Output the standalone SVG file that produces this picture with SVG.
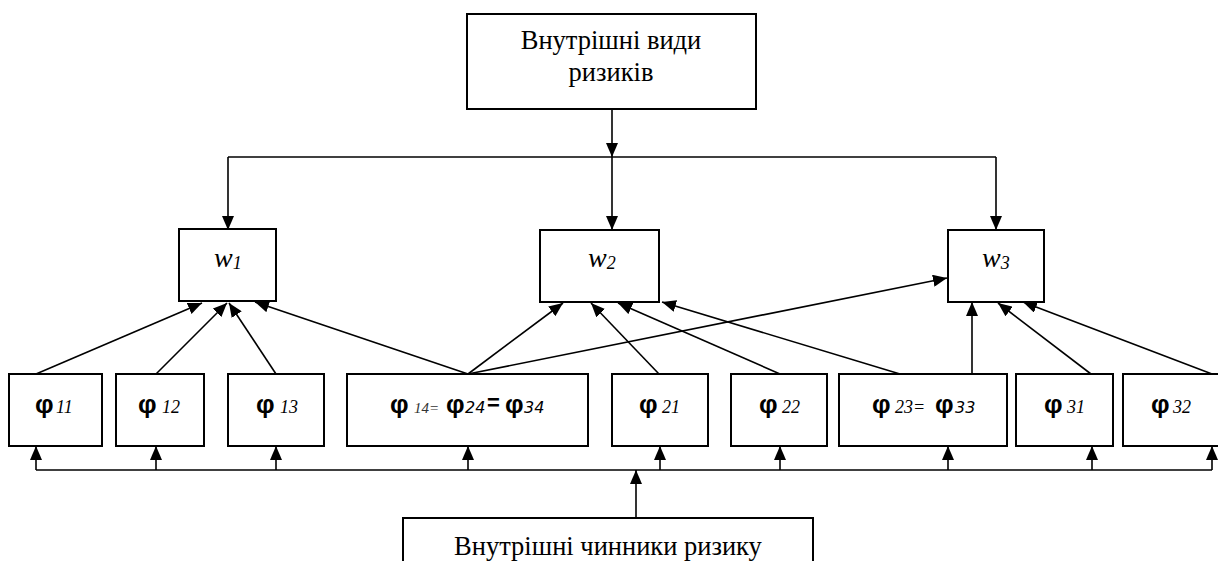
<svg xmlns="http://www.w3.org/2000/svg" width="1218" height="561" viewBox="0 0 1218 561">
<style>
.box{fill:#fff;stroke:#000;stroke-width:2}
.ln{stroke:#000;stroke-width:1.6;fill:none}
.ar{marker-end:url(#ah)}
.tt{font-family:'Liberation Serif','Times New Roman',serif;font-size:26.5px;fill:#000}
.w{font-family:'Liberation Serif','Times New Roman',serif;font-style:italic;font-size:28px;fill:#000}
.ws{font-family:'Liberation Serif','Times New Roman',serif;font-style:italic;font-size:18px;fill:#000}
.phi{font-family:'Liberation Sans',Arial,sans-serif;font-weight:bold;font-size:26px;fill:#000}
.eq{font-family:'Liberation Sans',Arial,sans-serif;font-weight:bold;font-size:22px;fill:#000}
.sub{font-family:'Liberation Serif','Times New Roman',serif;font-style:italic;font-size:18px;fill:#000}
.subs{font-family:'Liberation Serif','Times New Roman',serif;font-style:italic;font-size:15px;fill:#333}
.subv{font-family:'DejaVu Sans',sans-serif;font-style:italic;font-size:16px;fill:#000}
</style>
<defs>
<marker id="ah" markerUnits="userSpaceOnUse" markerWidth="14" markerHeight="12" refX="14" refY="6" orient="auto">
<path d="M0,0 L14,6 L0,12 z" fill="#000"/>
</marker>
</defs>
<g id="connectors">
<line class="ln ar" x1="612" y1="109" x2="612" y2="157"/>
<line class="ln ar" x1="612" y1="157" x2="612" y2="230"/>
<line class="ln" x1="228" y1="157" x2="996" y2="157"/>
<line class="ln ar" x1="228" y1="157" x2="228" y2="230"/>
<line class="ln ar" x1="996" y1="157" x2="996" y2="230"/>
<line class="ln ar" x1="36" y1="374" x2="202" y2="303"/>
<line class="ln ar" x1="156" y1="374" x2="227" y2="303"/>
<line class="ln ar" x1="276" y1="374" x2="229" y2="303"/>
<line class="ln ar" x1="468" y1="374" x2="255" y2="302"/>
<line class="ln ar" x1="468" y1="374" x2="563" y2="303"/>
<line class="ln ar" x1="468" y1="374" x2="947" y2="278"/>
<line class="ln ar" x1="659" y1="374" x2="591" y2="303"/>
<line class="ln ar" x1="780" y1="374" x2="618" y2="303"/>
<line class="ln ar" x1="900" y1="374" x2="662" y2="302"/>
<line class="ln ar" x1="972" y1="374" x2="972" y2="302"/>
<line class="ln ar" x1="1091" y1="374" x2="998" y2="303"/>
<line class="ln ar" x1="1212" y1="374" x2="1023" y2="302"/>
<line class="ln" x1="36" y1="470" x2="1212" y2="470"/>
<line class="ln ar" x1="636" y1="518" x2="636" y2="470"/>
<line class="ln ar" x1="36" y1="470" x2="36" y2="446"/>
<line class="ln ar" x1="156" y1="470" x2="156" y2="446"/>
<line class="ln ar" x1="276" y1="470" x2="276" y2="446"/>
<line class="ln ar" x1="468" y1="470" x2="468" y2="446"/>
<line class="ln ar" x1="660" y1="470" x2="660" y2="446"/>
<line class="ln ar" x1="780" y1="470" x2="780" y2="446"/>
<line class="ln ar" x1="948" y1="470" x2="948" y2="446"/>
<line class="ln ar" x1="1092" y1="470" x2="1092" y2="446"/>
<line class="ln ar" x1="1212" y1="470" x2="1212" y2="446"/>
</g>
<g id="top">
<rect class="box" x="467" y="14" width="289" height="95"/>
<text class="tt" x="611" y="49" text-anchor="middle">Внутрішні види</text>
<text class="tt" x="611" y="81" text-anchor="middle">ризиків</text>
</g>
<g id="w1">
<rect class="box" x="179" y="229" width="97" height="72"/>
<text x="214" y="267"><tspan class="w">w</tspan><tspan class="ws" dy="2">1</tspan></text>
</g>
<g id="w2">
<rect class="box" x="540" y="230" width="119" height="72"/>
<text x="588" y="267"><tspan class="w">w</tspan><tspan class="ws" dy="2">2</tspan></text>
</g>
<g id="w3">
<rect class="box" x="948" y="230" width="96" height="72"/>
<text x="982" y="267"><tspan class="w">w</tspan><tspan class="ws" dy="2">3</tspan></text>
</g>
<g id="phi11">
<rect class="box" x="9" y="374" width="93" height="72"/>
<text class="phi" x="35" y="413">φ</text><text class="sub" x="56" y="413">11</text>
</g>
<g id="phi12">
<rect class="box" x="116" y="374" width="88" height="72"/>
<text class="phi" x="138" y="413">φ</text><text class="sub" x="162" y="413">12</text>
</g>
<g id="phi13">
<rect class="box" x="228" y="374" width="96" height="72"/>
<text class="phi" x="256" y="413">φ</text><text class="sub" x="280" y="413">13</text>
</g>
<g id="phi14">
<rect class="box" x="347" y="374" width="241" height="72"/>
<text class="phi" x="390" y="413">φ</text><text class="subs" x="414" y="413">14=</text>
<text class="phi" x="446" y="413">φ</text><text class="subv" x="465" y="413">24</text>
<text class="eq" x="487" y="410">=</text>
<text class="phi" x="505" y="413">φ</text><text class="subv" x="524" y="413">34</text>
</g>
<g id="phi21">
<rect class="box" x="612" y="374" width="96" height="72"/>
<text class="phi" x="639" y="413">φ</text><text class="sub" x="662" y="413">21</text>
</g>
<g id="phi22">
<rect class="box" x="731" y="374" width="96" height="72"/>
<text class="phi" x="759" y="413">φ</text><text class="sub" x="782" y="413">22</text>
</g>
<g id="phi23">
<rect class="box" x="839" y="374" width="168" height="72"/>
<text class="phi" x="872" y="413">φ</text><text class="sub" x="895" y="413">23=</text>
<text class="phi" x="935" y="413">φ</text><text class="subv" x="955" y="413">33</text>
</g>
<g id="phi31">
<rect class="box" x="1016" y="374" width="97" height="72"/>
<text class="phi" x="1044" y="413">φ</text><text class="sub" x="1067" y="413">31</text>
</g>
<g id="phi32">
<rect class="box" x="1123" y="374" width="110" height="72"/>
<text class="phi" x="1151" y="413">φ</text><text class="sub" x="1173" y="413">32</text>
</g>
<g id="bottom">
<rect class="box" x="403" y="518" width="410" height="60"/>
<text class="tt" x="608" y="555" text-anchor="middle">Внутрішні чинники ризику</text>
</g>
</svg>
